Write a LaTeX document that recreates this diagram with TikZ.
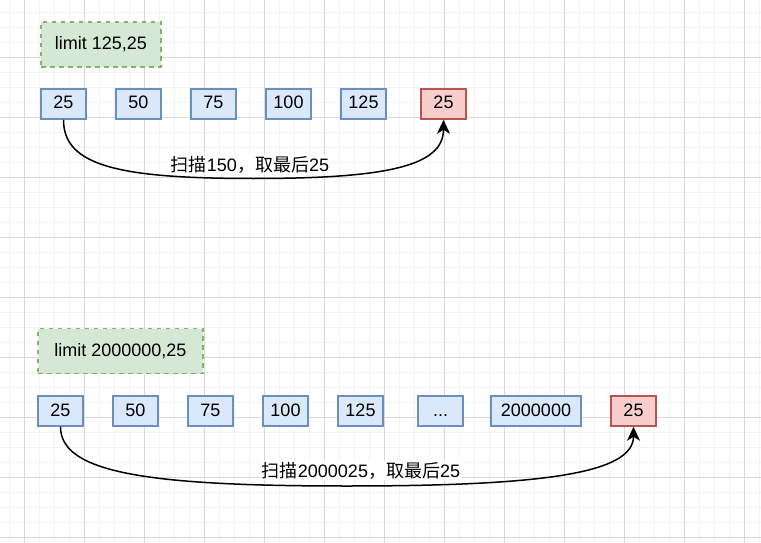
\documentclass[tikz,border=0pt]{standalone}
\usepackage{fontspec}
\setmainfont{Liberation Sans}
\newfontfamily\cjk{Noto Sans CJK SC}
\usetikzlibrary{arrows.meta}
\definecolor{bluefill}{HTML}{DAE8FC}
\definecolor{bluedraw}{HTML}{6C8EBF}
\definecolor{redfill}{HTML}{F8CECC}
\definecolor{reddraw}{HTML}{B85450}
\definecolor{greenfill}{HTML}{D5E8D4}
\definecolor{greendraw}{HTML}{82B366}
\definecolor{gridmajor}{HTML}{D8D8D8}
\definecolor{gridminor}{HTML}{F2F2F2}
\tikzset{
  cell/.style={draw=bluedraw, fill=bluefill, line width=1.5pt, minimum width=45pt, minimum height=30pt, inner sep=0pt, text height=13pt, text depth=3pt},
  hit/.style={cell, draw=reddraw, fill=redfill},
  note/.style={draw=greendraw, fill=greenfill, line width=1.5pt, dash pattern=on 4.5pt off 4.5pt, minimum height=45pt, inner sep=0pt, text height=13pt, text depth=3pt},
  conn/.style={line width=1.5pt, -{Stealth[length=14pt,width=13pt,inset=4pt]}},
  lbl/.style={fill=white, inner sep=0.5pt},
  minorline/.style={gridminor, line width=1pt},
  majorline/.style={gridmajor, line width=1pt}
}
\begin{document}
\begin{tikzpicture}[x=1pt, y=-1pt, font=\fontsize{18}{21}\selectfont]
\useasboundingbox (0,0) rectangle (761,543);
\fill[white] (0,0) rectangle (761,543);
% grid
\foreach \i in {0,...,50} {
  \pgfmathsetmacro\gx{9.3+15*\i}
  \draw[minorline] (\gx,0) -- (\gx,543);
}
\foreach \i in {0,...,36} {
  \pgfmathsetmacro\gy{12.3+15*\i}
  \draw[minorline] (0,\gy) -- (761,\gy);
}
\foreach \i in {0,...,12} {
  \pgfmathsetmacro\gx{24.3+60*\i}
  \draw[majorline] (\gx,0) -- (\gx,543);
}
\foreach \i in {0,...,9} {
  \pgfmathsetmacro\gy{57.3+60*\i}
  \draw[majorline] (0,\gy) -- (761,\gy);
}
% top row
\node[note, minimum width=120pt] (n1) at (101,44.5) {limit 125,25};
\node[cell] (a1) at (63.5,104) {25};
\node[cell] (a2) at (138.5,104) {50};
\node[cell] (a3) at (213.5,104) {75};
\node[cell] (a4) at (288.5,104) {100};
\node[cell] (a5) at (363.5,104) {125};
\node[hit] (a6) at (443.5,104) {25};
\coordinate (m1) at (253.5,178.5);
\draw[conn] (a1.south) .. controls +(0,46) and +(-135,0) .. (m1)
  .. controls +(135,0) and +(0,46) .. (a6.south);
\node[lbl] (l1) at (250,164.5) {{\cjk 扫描}150{\cjk ，取最后}25};
% bottom row
\node[note, minimum width=165pt] (n2) at (120.5,351) {limit 2000000,25};
\node[cell] (b1) at (60.5,411) {25};
\node[cell] (b2) at (135.5,411) {50};
\node[cell] (b3) at (210.5,411) {75};
\node[cell] (b4) at (285.5,411) {100};
\node[cell] (b5) at (360.5,411) {125};
\node[cell] (b6) at (440.5,411) {...};
\node[cell, minimum width=90pt] (b7) at (536,411) {2000000};
\node[hit] (b8) at (633.5,411) {25};
\coordinate (m2) at (347,486);
\draw[conn] (b1.south) .. controls +(0,46) and +(-200,0) .. (m2)
  .. controls +(200,0) and +(0,46) .. (b8.south);
\node[lbl] (l2) at (361,470.5) {{\cjk 扫描}2000025{\cjk ，取最后}25};
\end{tikzpicture}
\end{document}
